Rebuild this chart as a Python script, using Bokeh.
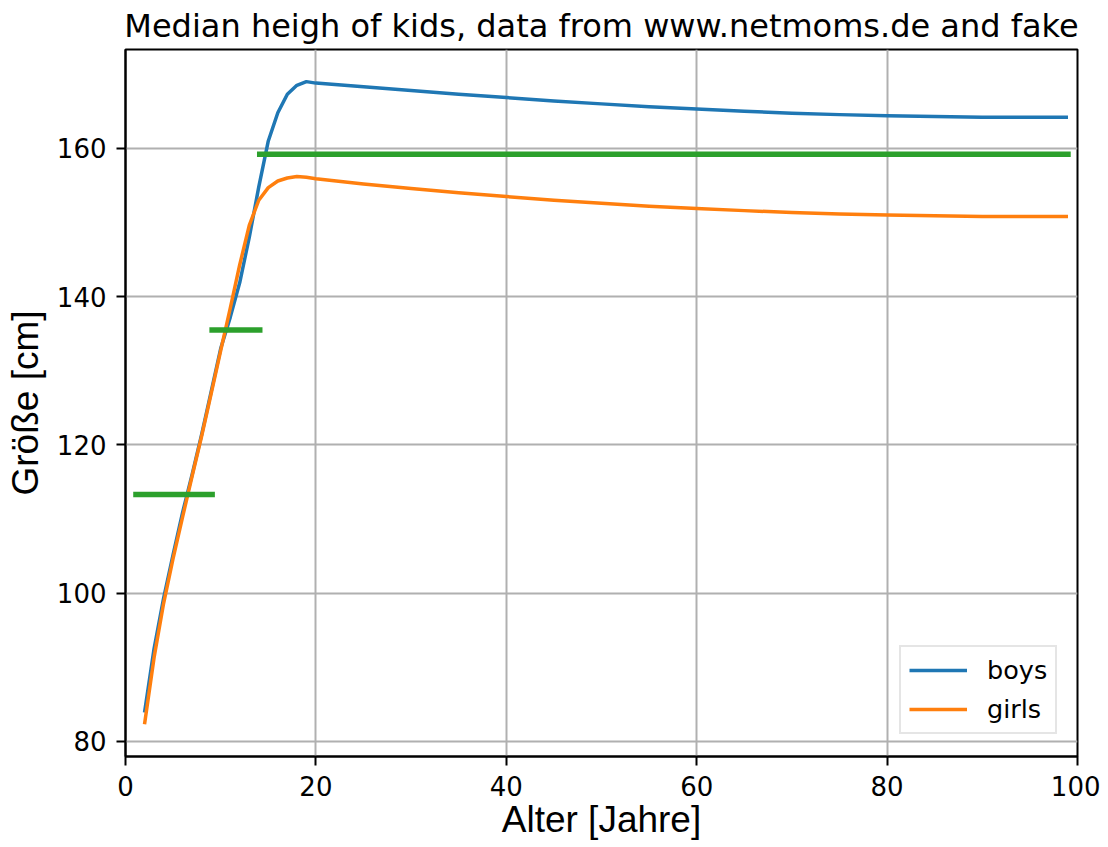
from bokeh.plotting import figure
from bokeh.models import Range1d, Legend, LegendItem, ColumnDataSource
from bokeh.embed import file_html
from bokeh.resources import INLINE

# ---- data ----
ages = list(range(2, 20)) + list(range(20, 100, 5)) + [99]
boys = [83.9, 92.5, 99.3, 105.2, 110.9, 116.0, 121.4, 127.2, 133.0, 137.2,
        141.9, 148.0, 154.8, 161.0, 164.8, 167.3, 168.5, 169.0,
        168.8, 168.3, 167.8, 167.3, 166.85, 166.4, 166.0, 165.6, 165.3,
        165.0, 164.75, 164.55, 164.4, 164.3, 164.2, 164.2, 164.2]
girls = [82.3, 91.3, 98.6, 104.7, 110.3, 115.8, 121.2, 126.9, 132.7, 138.4,
         144.3, 149.6, 153.0, 154.7, 155.6, 156.0, 156.2, 156.1,
         155.9, 155.2, 154.6, 154.0, 153.5, 153.0, 152.6, 152.2, 151.9,
         151.6, 151.35, 151.15, 151.0, 150.9, 150.8, 150.8, 150.8]
group_start = [1.1, 9.1, 14.1]
group_end = [9.1, 14.1, 99]
group_mean = [113.3, 135.5, 159.2]

title_text = "Median heigh of kids, data from www.netmoms.de and fake"
x_label = "Alter [Jahre]"
y_label = "Größe [cm]"
x_ticks = [0, 20, 40, 60, 80, 100]
y_ticks = [80, 100, 120, 140, 160]

ymin, ymax = min(boys + girls), max(boys + girls)
pad = 0.05 * (ymax - ymin)

p = figure(width=1100, height=845, output_backend="svg", toolbar_location=None,
           x_range=Range1d(0, 100), y_range=Range1d(ymin - pad, ymax + pad),
           min_border_left=125, min_border_right=23, min_border_top=46,
           min_border_bottom=89)

p.title.text = title_text
p.title.text_font = "DejaVu Sans"
p.title.text_font_size = "32px"
p.title.text_font_style = "normal"
p.title.align = "center"
p.title.standoff = 9
p.title.text_color = "black"

p.background_fill_color = "white"
p.border_fill_color = "white"
p.outline_line_color = "black"
p.outline_line_width = 2

for ax in (p.xaxis[0], p.yaxis[0]):
    ax.axis_line_color = "black"
    ax.axis_line_width = 2
    ax.major_tick_line_color = "black"
    ax.major_tick_line_width = 2
    ax.major_tick_in = 0
    ax.major_tick_out = 9
    ax.minor_tick_line_color = None
    ax.major_label_text_font = "DejaVu Sans"
    ax.major_label_text_font_size = "26px"
    ax.major_label_text_color = "black"
    ax.axis_label_text_font = "Liberation Sans"
    ax.axis_label_text_font_size = "37px"
    ax.axis_label_text_font_style = "normal"
    ax.axis_label_text_color = "black"

p.xaxis.ticker = x_ticks
p.yaxis.ticker = y_ticks
p.xaxis.axis_label = x_label
p.yaxis.axis_label = y_label
p.xaxis.major_label_standoff = 10
p.xaxis.axis_label_standoff = 0
p.yaxis.major_label_standoff = 10
p.yaxis.axis_label_standoff = 8

p.grid.grid_line_color = "#b0b0b0"
p.grid.grid_line_width = 2

src = ColumnDataSource(dict(age=ages, boys=boys, girls=girls))
rb = p.line("age", "boys", source=src, line_color="#1f77b4", line_width=3.5,
            line_join="round")
rg = p.line("age", "girls", source=src, line_color="#ff7f0e", line_width=3.5,
            line_join="round")
gsrc = ColumnDataSource(dict(x0=group_start, x1=group_end, y=group_mean))
p.segment(x0="x0", y0="y", x1="x1", y1="y", source=gsrc, line_color="#2ca02c",
          line_width=5.5, line_cap="square")

legend = Legend(items=[LegendItem(label="boys", renderers=[rb]),
                       LegendItem(label="girls", renderers=[rg])],
                location=(774, 22))
legend.label_text_font = "DejaVu Sans"
legend.label_text_font_size = "25.5px"
legend.label_text_color = "black"
legend.glyph_width = 58
legend.glyph_height = 30
legend.label_height = 30
legend.label_standoff = 20
legend.spacing = 9
legend.padding = 8
legend.margin = 0
legend.border_line_color = "#cccccc"
legend.border_line_width = 2
legend.background_fill_color = "white"
legend.background_fill_alpha = 0.8
p.add_layout(legend)

open("out.html", "w").write(file_html(p, INLINE))
